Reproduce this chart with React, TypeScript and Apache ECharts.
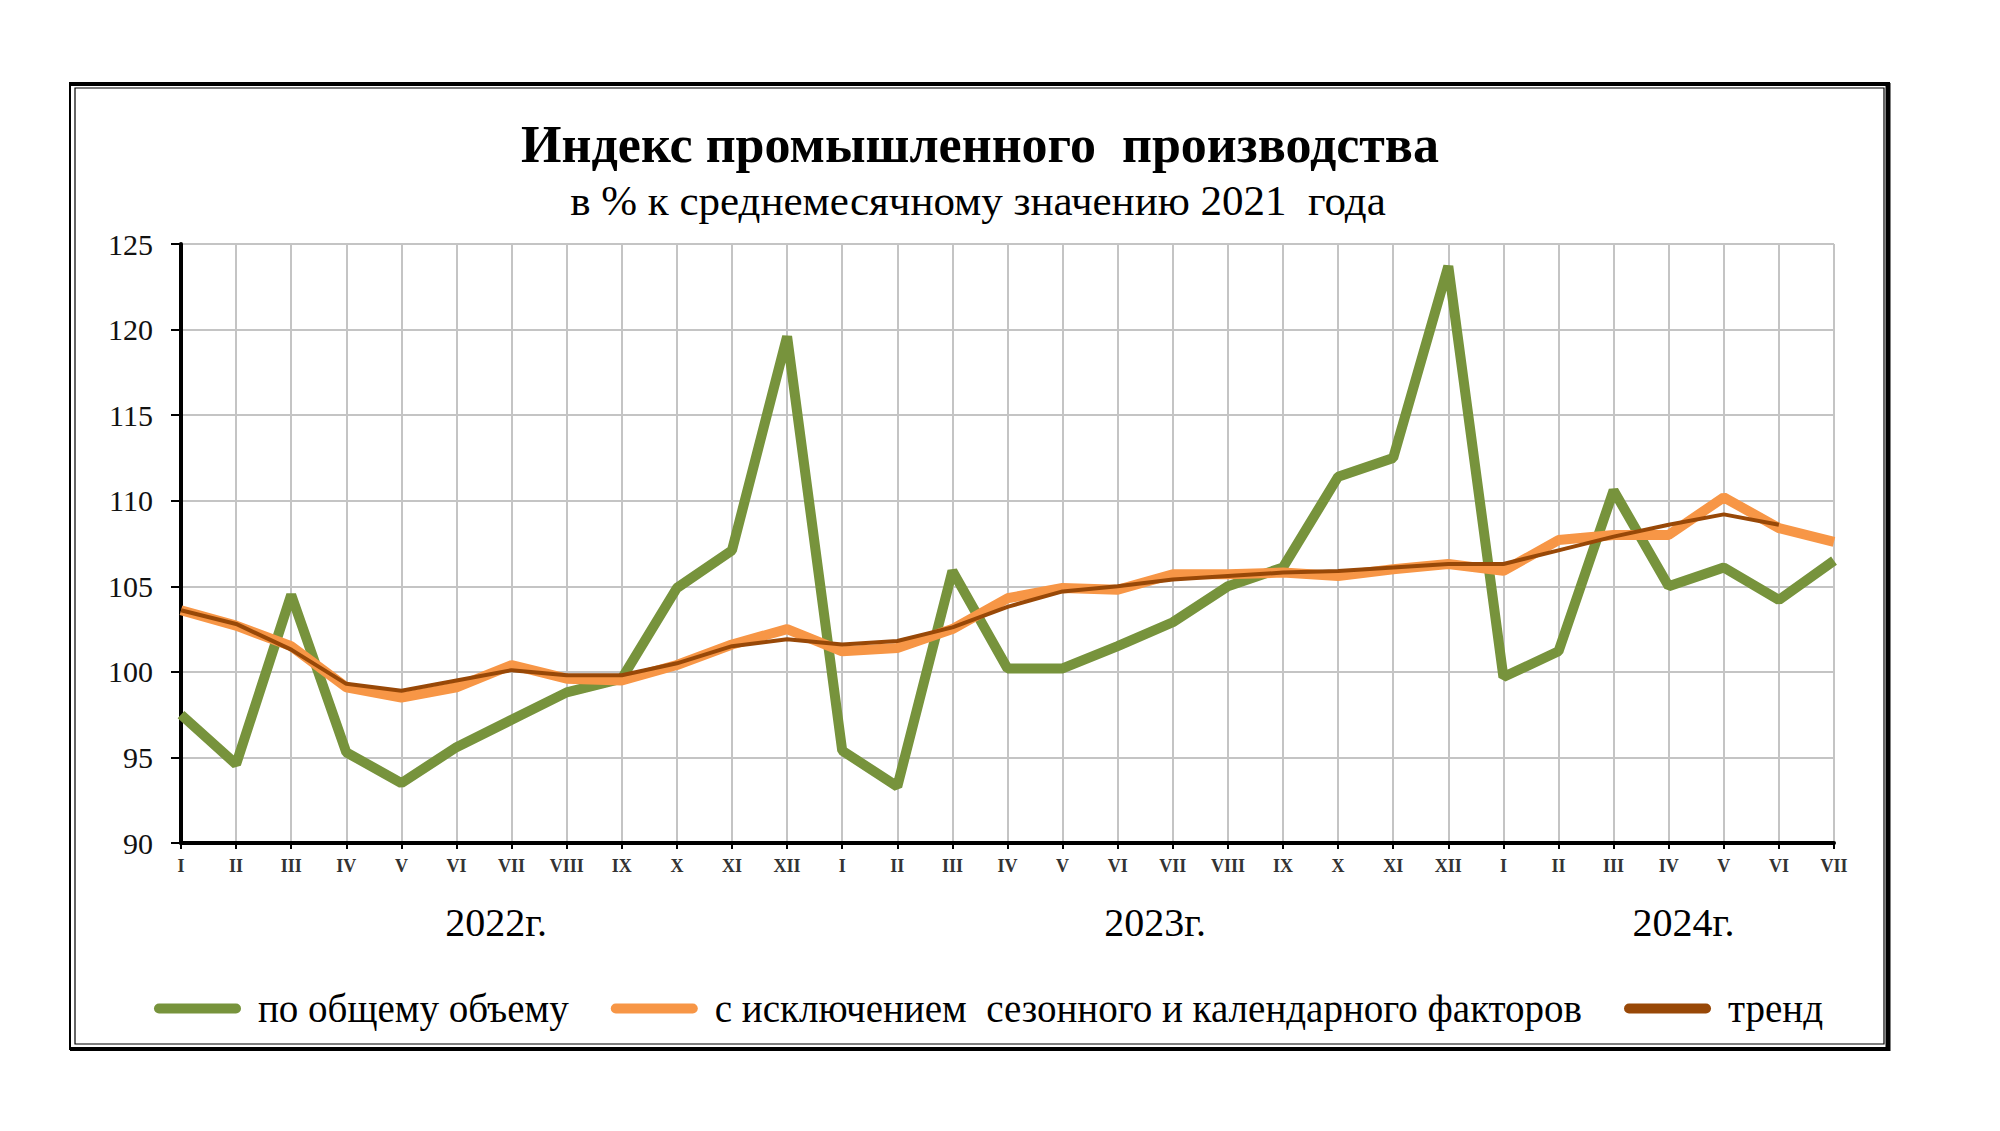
import React, { useEffect, useRef } from 'react';
import * as echarts from 'echarts';

const categories = [
  'I', 'II', 'III', 'IV', 'V', 'VI', 'VII', 'VIII', 'IX', 'X', 'XI', 'XII',
  'I', 'II', 'III', 'IV', 'V', 'VI', 'VII', 'VIII', 'IX', 'X', 'XI', 'XII',
  'I', 'II', 'III', 'IV', 'V', 'VI', 'VII',
];

const totalVolume = [
  97.5, 94.6, 104.5, 95.3, 93.5, 95.6, 97.2, 98.8, 99.6, 104.9, 107.1, 119.6,
  95.4, 93.3, 105.9, 100.2, 100.2, 101.5, 102.9, 105.0, 106.1, 111.4, 112.5, 123.7,
  99.7, 101.2, 110.6, 105.0, 106.1, 104.2, 106.5,
];

const seasonallyAdjusted = [
  103.6, 102.7, 101.5, 99.1, 98.5, 99.1, 100.4, 99.6, 99.5, 100.4, 101.6, 102.5,
  101.2, 101.4, 102.5, 104.3, 104.9, 104.8, 105.7, 105.7, 105.8, 105.6, 106.0, 106.3,
  105.9, 107.7, 108.0, 108.0, 110.2, 108.4, 107.6,
];

const trend = [
  103.6, 102.8, 101.3, 99.3, 98.9, 99.5, 100.1, 99.8, 99.8, 100.5, 101.5, 101.9,
  101.6, 101.8, 102.6, 103.8, 104.7, 105.0, 105.4, 105.6, 105.8, 105.9, 106.1, 106.3,
  106.3, 107.1, 107.9, 108.6, 109.2, 108.6, null,
];

const yearLabels = ['2022г.', '2023г.', '2024г.'];
const seriesNames = [
  'по общему объему',
  'с исключением  сезонного и календарного факторов',
  'тренд',
];
const titleText = 'Индекс промышленного  производства';
const subtitleText = 'в % к среднемесячному значению 2021  года';

const FONT = "'Liberation Serif', 'Times New Roman', serif";
const GREEN = '#77933C';
const ORANGE = '#F79646';
const BROWN = '#984807';

export default function App() {
  const ref = useRef<HTMLDivElement>(null);

  useEffect(() => {
    if (!ref.current) return;
    const chart = echarts.init(ref.current, undefined, { renderer: 'svg' });

    chart.setOption({
      animation: false,
      backgroundColor: '#ffffff',
      grid: { left: 181, right: 166, top: 244, bottom: 288, containLabel: false },
      legend: {
        left: 149,
        top: 984,
        itemWidth: 87,
        itemHeight: 10,
        itemGap: 42,
        icon: 'path://M5,0 L82,0 A5,5 0 0 1 82,10 L5,10 A5,5 0 0 1 5,0 Z',
        textStyle: { fontFamily: FONT, fontSize: 39, color: '#000', padding: [0, 0, 0, 12] },
        data: seriesNames,
      },
      xAxis: {
        type: 'category',
        data: categories,
        boundaryGap: false,
        axisLine: { show: true, lineStyle: { color: '#000', width: 4 } },
        axisTick: { show: true, length: 6, lineStyle: { color: '#000', width: 2 }, interval: 0 },
        axisLabel: { interval: 0, margin: 14, fontFamily: FONT, fontSize: 18, fontWeight: 'bold', color: '#333' },
        splitLine: { show: true, interval: 0, lineStyle: { color: '#C4C4C4', width: 2 } },
      },
      yAxis: {
        type: 'value',
        min: 90,
        max: 125,
        interval: 5,
        axisLine: { show: true, lineStyle: { color: '#000', width: 4 } },
        axisTick: { show: true, length: 10, lineStyle: { color: '#000', width: 2 } },
        axisLabel: { margin: 28, fontFamily: FONT, fontSize: 30, color: '#111' },
        splitLine: { show: true, lineStyle: { color: '#C4C4C4', width: 2 } },
      },
      series: [
        {
          name: seriesNames[0],
          type: 'line',
          data: totalVolume,
          symbol: 'none',
          z: 2,
          lineStyle: { color: GREEN, width: 10 },
          itemStyle: { color: GREEN },
        },
        {
          name: seriesNames[1],
          type: 'line',
          data: seasonallyAdjusted,
          symbol: 'none',
          z: 3,
          lineStyle: { color: ORANGE, width: 10 },
          itemStyle: { color: ORANGE },
        },
        {
          name: seriesNames[2],
          type: 'line',
          data: trend,
          symbol: 'none',
          z: 4,
          lineStyle: { color: BROWN, width: 4 },
          itemStyle: { color: BROWN },
        },
      ],
    });

    const x0 = chart.convertToPixel({ xAxisIndex: 0 }, 0) as number;
    const x1 = chart.convertToPixel({ xAxisIndex: 0 }, 1) as number;
    const step = x1 - x0;
    const yearAnchors = [5.72, 17.68, 27.27];

    chart.setOption({
      graphic: [
        { type: 'rect', id: 'outer', shape: { x: 70, y: 83, width: 1818, height: 966 }, style: { fill: 'none', stroke: '#000', lineWidth: 2 }, z: 10 },
        { type: 'rect', id: 'inner', shape: { x: 75, y: 88, width: 1809, height: 956 }, style: { fill: 'none', stroke: '#000', lineWidth: 1.2 }, z: 10 },
        { type: 'line', id: 'topThick', shape: { x1: 70, y1: 84, x2: 1890, y2: 84 }, style: { stroke: '#000', lineWidth: 4 }, z: 10 },
        { type: 'line', id: 'rightThick', shape: { x1: 1888, y1: 83, x2: 1888, y2: 1051 }, style: { stroke: '#000', lineWidth: 5 }, z: 10 },
        { type: 'line', id: 'bottomThick', shape: { x1: 70, y1: 1049, x2: 1890, y2: 1049 }, style: { stroke: '#000', lineWidth: 4 }, z: 10 },
        {
          type: 'text', id: 'title', x: 980, y: 144,
          style: { text: titleText, align: 'center', verticalAlign: 'middle', fontFamily: FONT, fontSize: 52, fontWeight: 'bold', fill: '#000' },
        },
        {
          type: 'text', id: 'subtitle', x: 978, y: 200,
          style: { text: subtitleText, align: 'center', verticalAlign: 'middle', fontFamily: FONT, fontSize: 43, fill: '#000' },
        },
        ...yearLabels.map((t, i) => ({
          type: 'text', id: 'year' + i, x: x0 + yearAnchors[i] * step, y: 922,
          style: { text: t, align: 'center', verticalAlign: 'middle', fontFamily: FONT, fontSize: 40, fill: '#000' },
        })),
      ],
    });

    return () => chart.dispose();
  }, []);

  return (
    <div
      ref={ref}
      style={{ position: 'absolute', left: 0, top: 0, width: 2000, height: 1131, background: '#fff' }}
    />
  );
}
